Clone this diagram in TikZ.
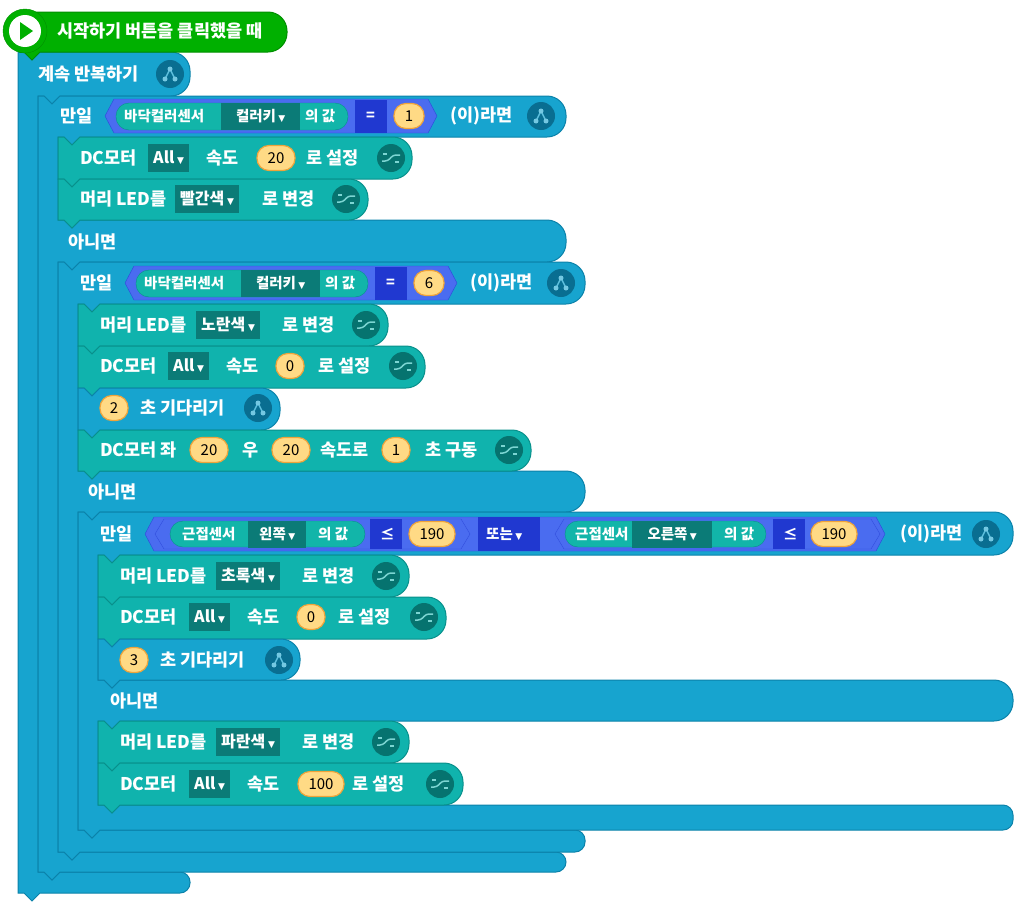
\documentclass[tikz,border=0pt]{standalone}
\usepackage{fontspec}
\setmainfont{Noto Sans CJK KR}
\newfontfamily\djv{DejaVu Sans}
\newcommand\tri{\,{\djv\fontsize{9}{9}\selectfont ▼}}
\definecolor{cb}{HTML}{17A4CF}\definecolor{cbd}{HTML}{0B82AA}
\definecolor{ct}{HTML}{10B3AD}\definecolor{ctd}{HTML}{08908B}
\definecolor{cdd}{HTML}{0B7B77}\definecolor{cny}{HTML}{FFDA85}\definecolor{cno}{HTML}{F0A43A}
\definecolor{chx}{HTML}{4A6CF0}\definecolor{chd}{HTML}{2038D0}\definecolor{cpl}{HTML}{12B5A9}
\definecolor{cg}{HTML}{00B000}\definecolor{cgd}{HTML}{008F00}
\tikzset{
 bblk/.style={fill=cb,draw=cbd,line width=1pt},
 tblk/.style={fill=ct,draw=ctd,line width=1pt},
 txt/.style={text=white,font=\fontsize{17.5}{20}\selectfont\bfseries,anchor=west,inner sep=0pt},
 stxt/.style={text=white,font=\fontsize{14.5}{16}\selectfont\bfseries,anchor=west,inner sep=0pt},
 dd/.style={fill=cdd,text=white,font=\fontsize{16}{18}\selectfont\bfseries,anchor=west,minimum height=28pt,inner xsep=5pt,inner ysep=0pt},
 sdd/.style={fill=cdd,text=white,font=\fontsize{14.5}{16}\selectfont\bfseries,anchor=west,minimum height=27pt,inner xsep=6pt,inner ysep=0pt},
 num/.style={fill=cny,draw=cno,line width=1.2pt,rounded corners=12pt,minimum height=25pt,minimum width=30pt,inner xsep=5pt,inner ysep=0pt,font=\fontsize{15}{16}\selectfont,text=black},
}
\newcommand\stmt[5]{\path[#5] (#1,#2) -- (#1+6,#2) -- (#1+14,#2+8) -- (#1+22,#2) [rounded corners=19pt] -- (#4,#2) -- (#4,#3) [sharp corners] -- (#1+22,#3) -- (#1+14,#3+8) -- (#1+6,#3) -- (#1,#3) -- cycle;}
\newcommand\cblk[8]{\path[bblk] (#1,#2) -- (#1+6,#2) -- (#1+14,#2+8) -- (#1+22,#2) [rounded corners=19pt] -- (#4,#2) -- (#4,#3) [sharp corners] -- (#1+42,#3) -- (#1+34,#3+8) -- (#1+26,#3) -- (#1+20,#3) -- (#1+20,#5) -- (#1+26,#5) -- (#1+34,#5+8) -- (#1+42,#5) [rounded corners=19pt] -- (#4,#5) -- (#4,#6) [sharp corners] -- (#1+42,#6) -- (#1+34,#6+8) -- (#1+26,#6) -- (#1+20,#6) -- (#1+20,#7) -- (#1+26,#7) -- (#1+34,#7+8) -- (#1+42,#7) [rounded corners=10pt] -- (#4,#7) -- (#4,#8) [sharp corners] -- (#1+22,#8) -- (#1+14,#8+8) -- (#1+6,#8) -- (#1,#8) -- cycle;}
\newcommand\icoT[2]{\fill[cbd!85!black] (#1,#2) circle (14);
 \draw[cb!70!white,line width=1.5pt] (#1-5,#2+5) -- (#1,#2-5) -- (#1+5,#2+5);
 \fill[cb!60!white] (#1,#2-5) circle (2.5) (#1-5,#2+5) circle (2.5) (#1+5,#2+5) circle (2.5);}
\newcommand\icoW[2]{\fill[ctd!80!black] (#1,#2) circle (14);
 \draw[ct!55!white,line width=1.5pt,rounded corners=3pt] (#1-9,#2+3) -- (#1-3,#2+3) -- (#1+2,#2-3) -- (#1+9,#2-3);
 \draw[ct!55!white,line width=1.2pt] (#1-4,#2-4) -- (#1-8,#2-4) (#1+4,#2+4) -- (#1+8,#2+4);}
\newcommand\hexa[5]{\path[#5] (#1,#3) -- (#1+9,#3-#4) -- (#2-9,#3-#4) -- (#2,#3) -- (#2-9,#3+#4) -- (#1+9,#3+#4) -- cycle;}
\begin{document}
\begin{tikzpicture}[x=1pt,y=-1pt]
\useasboundingbox (0,0) rectangle (1031,905);
% forever
\path[bblk] (18,52) -- (24,52) -- (32,60) -- (40,52) [rounded corners=19pt] -- (190,52) -- (190,96) [sharp corners] -- (60,96) -- (52,104) -- (44,96) -- (38,96) -- (38,872) -- (44,872) -- (52,880) -- (60,872) [rounded corners=10pt] -- (190,872) -- (190,893) [sharp corners] -- (40,893) -- (32,901) -- (24,893) -- (18,893) -- cycle;
\node[txt] (fv) at (38,74) {계속 반복하기}; \icoT{170}{74}
% hat
\path[fill=cg,draw=cgd,line width=1pt,rounded corners=19pt] (20,12) -- (287,12) -- (287,52) [sharp corners] -- (40,52) -- (32,60) -- (24,52) -- (20,52) -- cycle;
\fill[cg,draw=cgd] (25,31) circle (22);
\fill[white] (25,31) circle (16);
\fill[cg] (20,22) -- (33,31) -- (20,40) -- cycle;
\node[txt] (hat) at (57,31) {시작하기 버튼을 클릭했을 때};
% if1
\cblk{38}{96}{137}{566}{220}{262}{852}{872}
\node[txt] (m1) at (60,116) {만일};
\hexa{105}{437}{116}{17}{fill=chx,draw=chd!70!chx}
\fill[cpl,draw=ctd,rounded corners=13pt] (116,103) rectangle (348,130);
\node[stxt] at (124,116) {바닥컬러센서};
\node[sdd,minimum width=79pt] at (221,116) {컬러키\tri};
\node[stxt] at (305,116) {의 값};
\fill[chd] (355,100) rectangle (387,133); \node[stxt] at (366,116) {=};
\node[num] (n1) at (409,116) {1};
\node[txt] at (450,116) {(이)라면}; \icoT{541}{116}
\node[txt] at (68,242) {아니면};
% if1 body
\stmt{58}{137}{179}{412}{tblk}
\node[txt] at (80,158) {DC모터}; \node[dd] at (148,158) {All\tri}; \node[txt] at (206,158) {속도};
\node[num,minimum width=38pt] at (276,158) {20}; \node[txt] at (306,158) {로 설정}; \icoW{391}{158}
\stmt{58}{179}{220}{368}{tblk}
\node[txt] at (80,199) {머리 LED를}; \node[dd] at (175,199) {빨간색\tri}; \node[txt] at (262,199) {로 변경}; \icoW{346}{199}
% if2
\cblk{58}{262}{304}{585}{471}{512}{830}{852}
\node[txt] at (80,283) {만일};
\hexa{125}{457}{283}{17}{fill=chx,draw=chd!70!chx}
\fill[cpl,draw=ctd,rounded corners=13pt] (136,270) rectangle (368,297);
\node[stxt] at (144,283) {바닥컬러센서};
\node[sdd,minimum width=79pt] at (241,283) {컬러키\tri};
\node[stxt] at (325,283) {의 값};
\fill[chd] (375,267) rectangle (407,300); \node[stxt] at (386,283) {=};
\node[num] at (429,283) {6};
\node[txt] at (470,283) {(이)라면}; \icoT{561}{283}
\node[txt] at (88,492) {아니면};
\stmt{78}{304}{346}{388}{tblk}
\node[txt] at (100,325) {머리 LED를}; \node[dd] at (196,325) {노란색\tri}; \node[txt] at (282,325) {로 변경}; \icoW{366}{325}
\stmt{78}{346}{388}{425}{tblk}
\node[txt] at (100,366) {DC모터}; \node[dd] at (168,366) {All\tri}; \node[txt] at (226,366) {속도};
\node[num,minimum width=28pt] at (290,366) {0}; \node[txt] at (318,366) {로 설정}; \icoW{403}{366}
\stmt{78}{388}{430}{280}{bblk}
\node[num,minimum width=28pt] at (114,408) {2}; \node[txt] at (140,408) {초 기다리기}; \icoT{258}{408}
\stmt{78}{430}{471}{531}{tblk}
\node[txt] at (100,450) {DC모터 좌}; \node[num,minimum width=38pt] at (209,450) {20}; \node[txt] at (242,450) {우};
\node[num,minimum width=38pt] at (291,450) {20}; \node[txt] at (320,450) {속도로}; \node[num,minimum width=28pt] at (396,450) {1};
\node[txt] at (425,450) {초 구동}; \icoW{509}{450}
% if3
\cblk{78}{512}{555}{1013}{680}{721}{805}{830}
\node[txt] at (100,534) {만일};
\hexa{145}{885}{534}{17}{fill=chx,draw=chd!70!chx}
\hexa{155}{470}{534}{15}{fill=chx,draw=chd!60!chx}
\hexa{555}{880}{534}{15}{fill=chx,draw=chd!60!chx}
\fill[chd] (478,517) rectangle (540,551); \node[stxt] at (486,534) {또는\tri};
\fill[cpl,draw=ctd,rounded corners=13pt] (170,521) rectangle (365,547);
\node[stxt] at (182,534) {근접센서}; \node[sdd,minimum width=58pt] at (248,534) {왼쪽\tri}; \node[stxt] at (318,534) {의 값};
\fill[chd] (370,519) rectangle (402,549); \node[stxt] at (380,534) {≤};
\node[num,minimum width=46pt] at (432,534) {190};
\fill[cpl,draw=ctd,rounded corners=13pt] (565,521) rectangle (766,547);
\node[stxt] at (575,534) {근접센서}; \node[sdd,minimum width=80pt] at (632,534) {오른쪽\tri}; \node[stxt] at (724,534) {의 값};
\fill[chd] (773,519) rectangle (805,549); \node[stxt] at (783,534) {≤};
\node[num,minimum width=46pt] at (834,534) {190};
\node[txt] at (900,534) {(이)라면}; \icoT{986}{534}
\node[txt] at (110,701) {아니면};
\stmt{98}{555}{597}{409}{tblk}
\node[txt] at (120,576) {머리 LED를}; \node[dd] at (216,576) {초록색\tri}; \node[txt] at (302,576) {로 변경}; \icoW{386}{576}
\stmt{98}{597}{639}{446}{tblk}
\node[txt] at (120,617) {DC모터}; \node[dd] at (189,617) {All\tri}; \node[txt] at (247,617) {속도};
\node[num,minimum width=28pt] at (311,617) {0}; \node[txt] at (338,617) {로 설정}; \icoW{424}{617}
\stmt{98}{639}{680}{300}{bblk}
\node[num,minimum width=28pt] at (134,660) {3}; \node[txt] at (160,660) {초 기다리기}; \icoT{279}{660}
\stmt{98}{721}{763}{409}{tblk}
\node[txt] at (120,742) {머리 LED를}; \node[dd] at (216,742) {파란색\tri}; \node[txt] at (302,742) {로 변경}; \icoW{386}{742}
\stmt{98}{763}{805}{463}{tblk}
\node[txt] at (120,784) {DC모터}; \node[dd] at (189,784) {All\tri}; \node[txt] at (247,784) {속도};
\node[num,minimum width=46pt] at (321,784) {100}; \node[txt] at (352,784) {로 설정}; \icoW{440}{784}
\end{tikzpicture}
\end{document}
